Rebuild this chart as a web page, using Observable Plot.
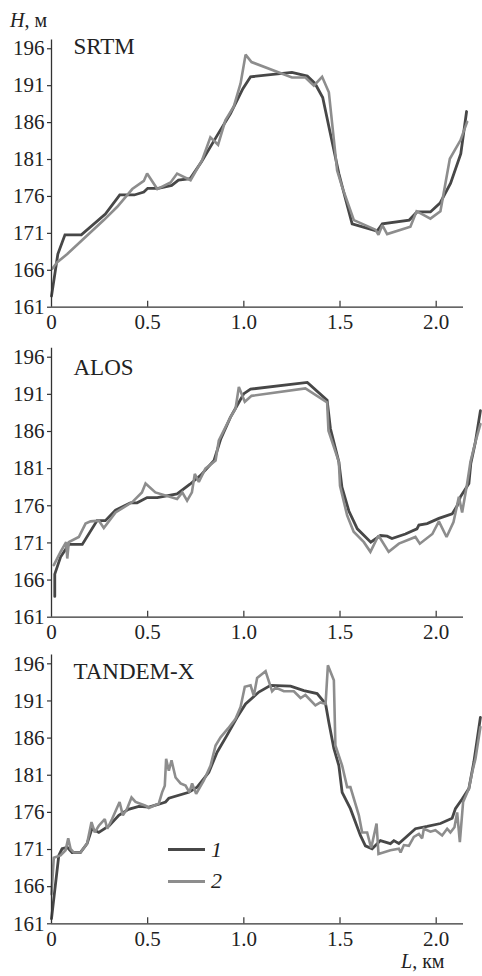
<!DOCTYPE html>
<html>
<head>
<meta charset="utf-8">
<script src="https://cdn.jsdelivr.net/npm/d3@7"></script>
<script src="https://cdn.jsdelivr.net/npm/@observablehq/plot@0.6"></script>
<style>
  html, body { margin: 0; padding: 0; background: #fff; }
  #root { position: relative; width: 482px; height: 976px; overflow: hidden; font-family: 'Liberation Serif', 'Times New Roman', serif; color: #222; }
  .panel { position: absolute; left: 0; }
  .lbl { position: absolute; font-size: 20px; white-space: nowrap; line-height: 1; }
  .legline { position: absolute; height: 0; }
</style>
</head>
<body>
<div id="root"></div>
<script>
// ---- data: [L, km ; H, m]
const panelNames = ["SRTM", "ALOS", "TANDEM-X"];
const seriesNames = ["1", "2"];
const xTicks = [0, 0.5, 1.0, 1.5, 2.0];
const yTicks = [161, 166, 171, 176, 181, 186, 191, 196];

const srtm1 = [[0,162.5],[0.033,168.2],[0.07,170.8],[0.155,170.8],[0.28,173.6],[0.355,176.2],[0.43,176.2],[0.48,176.6],[0.5,177.1],[0.555,177.1],[0.625,177.5],[0.66,178.2],[0.72,178.4],[0.78,180.7],[0.86,184.2],[0.93,187.2],[0.995,190.6],[1.035,192.2],[1.25,192.8],[1.33,192.3],[1.37,191.3],[1.41,189.4],[1.45,184.5],[1.494,179.1],[1.52,176.5],[1.563,172.3],[1.693,171.3],[1.72,172.3],[1.86,172.8],[1.9,173.9],[1.97,173.9],[2.02,175.1],[2.075,177.8],[2.128,181.8],[2.158,187.5]];
const srtm2 = [[0.004,166.2],[0.03,167.1],[0.082,168.2],[0.16,170.1],[0.272,172.8],[0.342,174.6],[0.42,177.0],[0.48,178.1],[0.497,179.1],[0.55,177.0],[0.619,177.9],[0.653,179.1],[0.723,178.2],[0.783,180.9],[0.826,184.0],[0.866,183.0],[0.904,186.3],[0.948,188.2],[0.983,191.3],[1.009,195.2],[1.04,194.2],[1.25,192.1],[1.32,192.1],[1.364,191.0],[1.407,192.2],[1.442,190.1],[1.485,179.5],[1.511,177.3],[1.572,172.8],[1.684,171.5],[1.7,170.8],[1.72,172.1],[1.745,170.9],[1.866,171.9],[1.898,174.0],[1.97,173.0],[2.022,174.0],[2.071,181.1],[2.126,183.6],[2.161,186.1]];

const alos1 = [[0.017,163.8],[0.017,166.8],[0.047,169.1],[0.09,170.8],[0.16,170.8],[0.237,174.0],[0.28,174.0],[0.333,175.4],[0.41,176.4],[0.445,176.4],[0.497,177.1],[0.55,177.1],[0.653,177.6],[0.72,178.9],[0.775,180.1],[0.845,182.1],[0.88,185.0],[0.93,187.9],[0.965,189.5],[1.0,191.1],[1.035,191.7],[1.33,192.6],[1.433,190.2],[1.45,186.4],[1.494,181.9],[1.51,178.5],[1.546,175.3],[1.59,172.9],[1.66,171.1],[1.71,172.0],[1.745,171.9],[1.77,171.6],[1.84,172.2],[1.9,172.9],[1.91,173.4],[1.953,173.6],[2.014,174.3],[2.083,174.9],[2.109,176.0],[2.126,177.2],[2.17,179.0],[2.18,181.7],[2.204,184.6],[2.23,188.8]];
const alos2 = [[0.012,168.0],[0.047,169.8],[0.076,171.1],[0.082,168.9],[0.09,171.1],[0.142,171.8],[0.177,173.6],[0.203,173.9],[0.246,174.0],[0.272,173.0],[0.333,175.1],[0.42,176.5],[0.47,177.8],[0.489,179.0],[0.54,177.8],[0.653,176.9],[0.68,177.8],[0.705,176.7],[0.73,177.8],[0.745,180.3],[0.766,179.2],[0.8,181.0],[0.853,182.1],[0.87,184.8],[0.93,187.9],[0.957,189.1],[0.974,192.0],[1.005,190.0],[1.04,190.8],[1.32,191.8],[1.433,189.9],[1.44,186.1],[1.494,181.9],[1.5,178.7],[1.537,174.7],[1.571,172.5],[1.624,171.1],[1.658,169.8],[1.7,172.0],[1.753,169.8],[1.806,170.9],[1.892,171.8],[1.915,170.9],[1.98,172.2],[2.014,173.9],[2.054,171.8],[2.09,173.8],[2.118,177.2],[2.135,175.1],[2.161,179.0],[2.178,181.9],[2.204,184.6],[2.23,187.0]];

const tdx1 = [[0,161.7],[0.038,170.2],[0.055,171.1],[0.082,171.3],[0.107,170.6],[0.15,170.6],[0.185,171.8],[0.21,173.8],[0.246,173.3],[0.3,174.2],[0.35,175.6],[0.4,176.4],[0.454,176.8],[0.506,176.7],[0.558,177.1],[0.593,177.4],[0.61,177.9],[0.714,178.7],[0.757,179.4],[0.818,181.4],[0.861,184.1],[0.913,186.4],[0.965,188.8],[1.009,190.6],[1.078,192.2],[1.139,193.1],[1.243,193.0],[1.312,192.4],[1.381,192.0],[1.425,190.6],[1.442,188.1],[1.468,184.6],[1.494,182.3],[1.511,178.7],[1.554,176.5],[1.606,172.9],[1.632,171.5],[1.667,171.1],[1.71,172.2],[1.762,171.8],[1.78,172.2],[1.806,171.8],[1.892,173.8],[1.953,174.1],[2.022,174.5],[2.083,175.2],[2.1,176.5],[2.135,177.8],[2.17,179.2],[2.196,182.8],[2.23,188.8]];
const tdx2 = [[0,165.0],[0.012,169.9],[0.047,170.2],[0.073,170.9],[0.087,172.5],[0.099,171.1],[0.116,170.6],[0.151,170.6],[0.185,171.8],[0.208,174.7],[0.225,173.3],[0.246,174.2],[0.277,175.1],[0.29,173.8],[0.315,175.1],[0.354,177.4],[0.371,175.6],[0.393,176.5],[0.416,178.0],[0.437,177.4],[0.489,176.9],[0.506,176.6],[0.558,177.2],[0.575,178.7],[0.589,179.6],[0.596,183.2],[0.61,181.6],[0.624,183.0],[0.645,180.7],[0.671,179.9],[0.697,179.6],[0.717,178.7],[0.731,179.9],[0.752,178.5],[0.792,180.3],[0.827,182.3],[0.853,185.0],[0.879,186.1],[0.918,187.3],[0.957,188.6],[0.983,190.2],[1.005,192.9],[1.035,193.1],[1.052,191.7],[1.069,194.1],[1.113,195.0],[1.147,192.3],[1.165,192.8],[1.208,192.3],[1.26,192.3],[1.295,191.4],[1.32,191.8],[1.372,190.4],[1.398,190.8],[1.425,190.6],[1.437,195.8],[1.468,193.8],[1.476,185.0],[1.511,182.3],[1.537,179.4],[1.554,179.4],[1.598,175.6],[1.615,173.3],[1.641,173.3],[1.662,171.2],[1.69,174.5],[1.7,170.4],[1.762,170.9],[1.806,171.1],[1.815,170.6],[1.832,171.6],[1.858,171.5],[1.884,172.7],[1.91,173.1],[1.927,172.5],[1.936,173.8],[1.97,173.4],[1.996,173.6],[2.031,172.9],[2.057,173.8],[2.074,173.3],[2.095,174.0],[2.109,176.0],[2.123,172.0],[2.14,177.4],[2.17,179.2],[2.187,181.4],[2.204,183.2],[2.23,187.5]];

// ---- styling
const C1 = "#474747", C2 = "#8d8d8d", AX = "#333";
const FONT = "'Liberation Serif', 'Times New Roman', serif";
const Y_DOMAIN = [161, 197.2];
const X_DOMAIN = [0, 2.142];

const panels = [
  {name: panelNames[0], s1: srtm1, s2: srtm2, top: 0,   height: 330, marginTop: 39.4, marginBottom: 23.3, nameDy: 14},
  {name: panelNames[1], s1: alos1, s2: alos2, top: 330, height: 310, marginTop: 17.8, marginBottom: 23.3, nameDy: 27},
  {name: panelNames[2], s1: tdx1,  s2: tdx2,  top: 640, height: 336, marginTop: 14.4, marginBottom: 52.7, nameDy: 24}
];

const root = document.getElementById("root");

for (const p of panels) {
  const innerH = p.height - p.marginTop - p.marginBottom;
  const tickLen = 6 * (Y_DOMAIN[1] - Y_DOMAIN[0]) / innerH;
  const chart = Plot.plot({
    width: 482,
    height: p.height,
    marginLeft: 51,
    marginRight: 19,
    marginTop: p.marginTop,
    marginBottom: p.marginBottom,
    style: {fontFamily: FONT, fontSize: "21px", color: "#222", background: "transparent", overflow: "visible"},
    x: {domain: X_DOMAIN},
    y: {domain: Y_DOMAIN},
    marks: [
      Plot.line(p.s1, {x: d => d[0], y: d => d[1], stroke: C1, strokeWidth: 2.8, strokeLinejoin: "miter", strokeMiterlimit: 2}),
      Plot.line(p.s2, {x: d => d[0], y: d => d[1], stroke: C2, strokeWidth: 2.6, strokeLinejoin: "miter", strokeMiterlimit: 2}),
      Plot.ruleY([Y_DOMAIN[0]], {stroke: AX, strokeWidth: 1.3}),
      Plot.ruleX([X_DOMAIN[0]], {stroke: AX, strokeWidth: 1.3}),
      Plot.axisY(yTicks, {tickSize: 4, tickPadding: 3, fontSize: 21, stroke: AX, strokeWidth: 1.2, label: null, fill: "#222"}),
      Plot.axisX(xTicks, {tickSize: 0, tickPadding: 7, fontSize: 21, label: null, fill: "#222",
        tickFormat: d => d === 0 ? "0" : d.toFixed(1)}),
      Plot.ruleX(xTicks.filter(d => d > 0), {y1: Y_DOMAIN[0], y2: Y_DOMAIN[0] + tickLen, stroke: AX, strokeWidth: 1.2}),
      Plot.text([p.name], {frameAnchor: "top-left", dx: 22, dy: p.nameDy, textAnchor: "start", lineAnchor: "bottom", fontSize: 23, fill: "#222"})
    ]
  });
  const div = document.createElement("div");
  div.className = "panel";
  div.style.top = p.top + "px";
  div.appendChild(chart);
  root.appendChild(div);
}

// axis titles
function addLabel(html, left, top, size) {
  const d = document.createElement("div");
  d.className = "lbl";
  d.style.left = left + "px";
  d.style.top = top + "px";
  d.style.fontSize = size + "px";
  d.innerHTML = html;
  root.appendChild(d);
}
addLabel("<i>H</i>, м", 10, 10, 20);
addLabel("<i>L</i>, км", 401, 951, 20);

// legend
const legend = [
  {label: seriesNames[0], color: C1, width: 3.3, y: 850},
  {label: seriesNames[1], color: C2, width: 3.0, y: 881}
];
for (const l of legend) {
  const line = document.createElement("div");
  line.className = "legline";
  line.style.left = "168px";
  line.style.width = "37px";
  line.style.top = (l.y - l.width / 2) + "px";
  line.style.borderTop = l.width + "px solid " + l.color;
  root.appendChild(line);
  addLabel("<i>" + l.label + "</i>", 211, l.y - 11, 22);
}
</script>
</body>
</html>
